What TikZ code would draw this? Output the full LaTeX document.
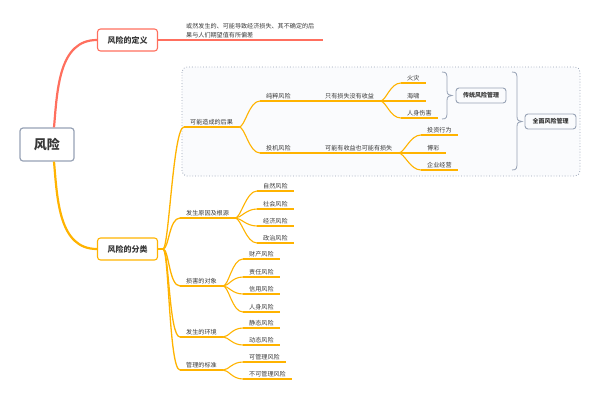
\documentclass[tikz,border=0pt]{standalone}
\usepackage{fontspec}
\setmainfont{Noto Sans CJK SC}
\usepackage{tikz}
\usetikzlibrary{positioning}
\definecolor{riskred}{HTML}{FF6F5E}
\definecolor{riskorange}{HTML}{FFB300}
\definecolor{riskgray}{HTML}{97A2B5}
\definecolor{risktext}{HTML}{383838}
\definecolor{riskfill}{HTML}{FAFBFD}

\begin{document}
\begin{tikzpicture}[x=1pt,y=-1pt,
	topic/.style={anchor=south west,inner xsep=6pt,inner ysep=1.5pt,font=\fontsize{6.1}{7}\selectfont,text=risktext},
	branch/.style={draw=riskorange,line width=1.1pt},
	curve/.style={out=0,in=180,out distance=6pt,in distance=11pt},
	box/.style={draw,rounded corners=3pt,line width=1.1pt,text=risktext,align=center}]
	\useasboundingbox (0,0) rectangle (600,400);
	% group of consequences
	\draw[riskgray,dotted,line width=0.8pt,rounded corners=5pt,fill=riskfill] (182,67) rectangle (580,176);

	\begin{scope}[every node/.style={box}]
		\node[draw=riskgray,line width=1.2pt,minimum width=54pt,minimum height=33pt,font=\fontsize{13}{13}\selectfont\bfseries] (root) at (47,144.5) {风险};
		\node[draw=riskred,minimum width=60pt,minimum height=22pt,font=\fontsize{8}{8}\selectfont\bfseries] (def) at (127.5,40) {风险的定义};
		\node[draw=riskorange,minimum width=60pt,minimum height=22pt,font=\fontsize{8}{8}\selectfont\bfseries] (cls) at (127.5,249) {风险的分类};
		\node[draw=riskgray,line width=0.9pt,minimum width=50pt,minimum height=15pt,font=\fontsize{6}{6}\selectfont\bfseries] (trad) at (481,95.5) {传统风险管理};
		\node[draw=riskgray,line width=0.9pt,minimum width=51pt,minimum height=15pt,font=\fontsize{6}{6}\selectfont\bfseries] (full) at (550.5,121.5) {全面风险管理};
	\end{scope}

	\node[topic,text width=131pt,align=left,font=\fontsize{6.1}{9}\selectfont] (deftxt) at (180,40) {或然发生的、可能导致经济损失、其不确定的后\\果与人们期望值有所偏差};

	\node[topic] (conseq) at (184,127) {可能造成的后果};
	\node[topic] (pure) at (260,101) {纯粹风险};
	\node[topic] (spec) at (260,153) {投机风险};
	\node[topic] (loss) at (319,101) {只有损失没有收益};
	\node[topic] (both) at (319,153) {可能有收益也可能有损失};
	\node[topic] (fire) at (401,83) {火灾};
	\node[topic] (wave) at (401,101) {海啸};
	\node[topic] (hurt) at (401,118) {人身伤害};
	\node[topic] (invest) at (421,135) {投资行为};
	\node[topic] (gamble) at (421,153) {博彩};
	\node[topic] (biz) at (421,170) {企业经营};

	\node[topic] (cause) at (180,218) {发生原因及根源};
	\node[topic] (nat) at (257,191) {自然风险};
	\node[topic] (soc) at (257,209) {社会风险};
	\node[topic] (eco) at (257,226) {经济风险};
	\node[topic] (pol) at (257,243) {政治风险};
	\node[topic] (target) at (180,286) {损害的对象};
	\node[topic] (prop) at (243,259) {财产风险};
	\node[topic] (liab) at (243,277) {责任风险};
	\node[topic] (cred) at (243,294) {信用风险};
	\node[topic] (pers) at (243,312) {人身风险};
	\node[topic] (env) at (180,337) {发生的环境};
	\node[topic] (stat) at (243,328) {静态风险};
	\node[topic] (dyn) at (243,345) {动态风险};
	\node[topic] (mgmt) at (180,370) {管理的标准};
	\node[topic] (mng) at (243,362) {可管理风险};
	\node[topic] (unmng) at (243,379) {不可管理风险};

	% main branches
	\draw[riskred,line width=2.2pt] ([xshift=7pt]root.north) to[out=85,in=180] (def.west);
	\draw[riskorange,line width=2.2pt] ([xshift=7pt]root.south) to[out=-85,in=180] (cls.west);
	\draw[riskred,line width=1.1pt] (def.east) -- (deftxt.south east);
	\coordinate (clsj) at (163,249);
	\draw[branch,line width=1.4pt] (cls.east) -- (clsj);
	\foreach \b in {conseq,cause,target,env,mgmt}
		\draw[branch,line width=1.3pt] (clsj) to[curve] (\b.south west);

	\foreach \n in {conseq,pure,spec,loss,both,fire,wave,hurt,invest,gamble,biz,cause,nat,soc,eco,pol,target,prop,liab,cred,pers,env,stat,dyn,mgmt,mng,unmng}
		\draw[branch] (\n.south west) -- (\n.south east);
	\foreach \a/\b in {conseq/pure,conseq/spec,pure/loss,spec/both,loss/fire,loss/wave,loss/hurt,both/invest,both/gamble,both/biz,cause/nat,cause/soc,cause/eco,cause/pol,target/prop,target/liab,target/cred,target/pers,env/stat,env/dyn,mgmt/mng,mgmt/unmng}
		\draw[branch] (\a.south east) to[curve] (\b.south west);

	% summary brackets
	\foreach \bx/\btop/\bbot/\bmid in {442/72/119/95.5,512/72/170/121.5}
		\draw[riskgray,line width=0.8pt] (\bx,\btop) .. controls (\bx+5,\btop) and (\bx+5,\btop+2) .. (\bx+5,\btop+8) -- (\bx+5,\bmid-5) .. controls (\bx+5,\bmid-1) and (\bx+7,\bmid) .. (\bx+10,\bmid) .. controls (\bx+7,\bmid) and (\bx+5,\bmid+1) .. (\bx+5,\bmid+5) -- (\bx+5,\bbot-8) .. controls (\bx+5,\bbot-2) and (\bx+5,\bbot) .. (\bx,\bbot);
\end{tikzpicture}
\end{document}
